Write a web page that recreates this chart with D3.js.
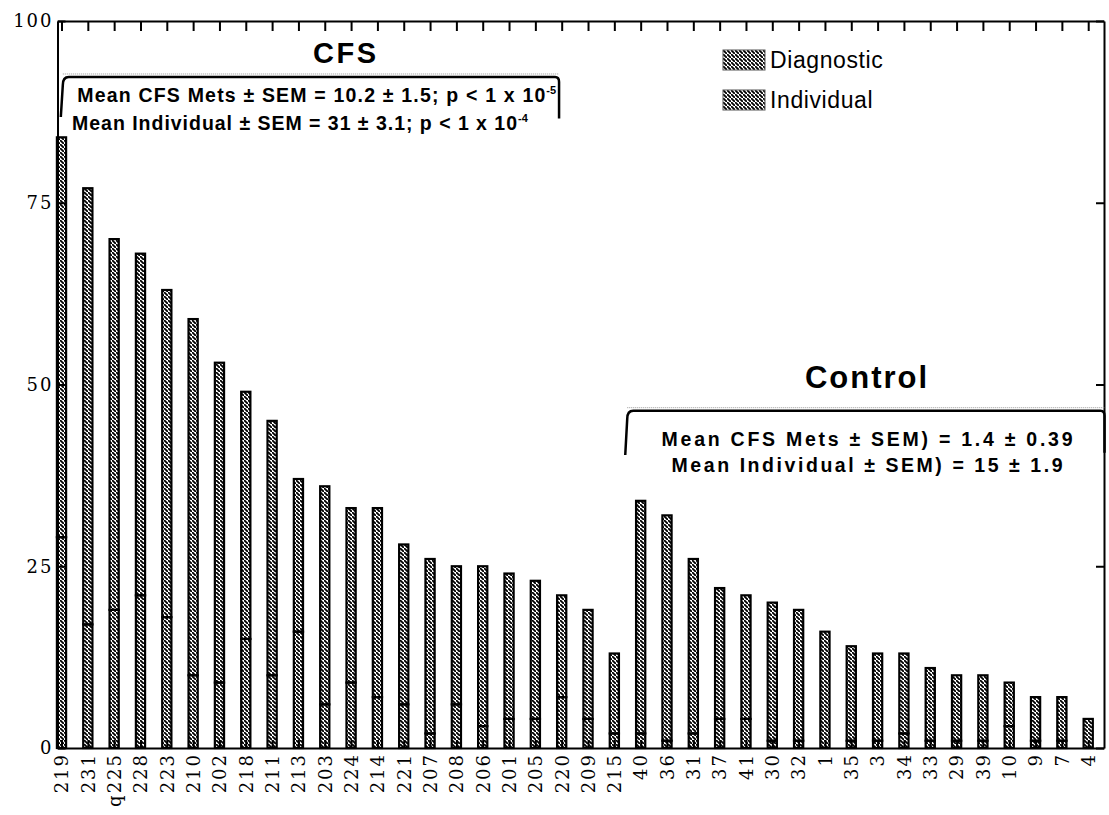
<!DOCTYPE html>
<html>
<head>
<meta charset="utf-8">
<title>CFS vs Control metabolites</title>
<script src="https://cdn.jsdelivr.net/npm/d3@7"></script>
<style>
body { margin: 0; background: #fff; }
.axis path, .axis line { stroke: #000; stroke-width: 2; }
.axis text { font: 18px "DejaVu Serif", serif; fill: #000; letter-spacing: 2px; }
.note { font-family: "Liberation Sans", Arial, sans-serif; font-weight: bold; fill: #000; }
.legend text { font: 23px "Liberation Sans", Arial, sans-serif; fill: #000; letter-spacing: 0.6px; }
.bar { stroke: #000; stroke-width: 2.2; }
</style>
</head>
<body>
<svg id="chart" width="1109" height="815"></svg>
<script>
// subjects, CFS first then controls (sorted by total)
var subjects = ["219","231","q225","228","223","210","202","218","211","213","203",
                "224","214","221","207","208","206","201","205","220","209","215",
                "40","36","31","37","41","30","32","1","35","3","34","33","29","39",
                "10","9","7","4"];
var diagnostic = [29,17,19,21,18,10,9,15,10,16,6,9,7,6,2,6,3,4,4,7,4,2,
                  2,1,2,4,4,1,1,0,1,1,2,1,1,1,3,1,1,0];
var individual = [55,60,51,47,45,49,44,34,35,21,30,24,26,22,24,19,22,20,19,14,15,11,
                  32,31,24,18,17,19,18,16,13,12,11,10,9,9,6,6,6,4];
var yTicks = [0, 25, 50, 75, 100];
var legendLabels = ["Diagnostic", "Individual"];

var svg = d3.select("#chart");

// axes box, x in "bar number" units like the original
var x = d3.scaleLinear().domain([0.848, 40.6]).range([57.5, 1104]);
var y = d3.scaleLinear().domain([0, 100]).range([748, 21]);
var barW = x(1.35) - x(1);

var rows = subjects.map(function(s, i) {
  return {subject: s, pos: i + 1, diagnostic: diagnostic[i], individual: individual[i]};
});
var stacked = d3.stack().keys(["diagnostic", "individual"])(rows);

// hatch
var defs = svg.append("defs");
defs.append("pattern")
    .attr("id", "hatch")
    .attr("patternUnits", "userSpaceOnUse")
    .attr("width", 4).attr("height", 4)
  .append("path")
    .attr("d", "M-1,-1 L1,1 M0,0 L4,4 M3,3 L5,5")
    .attr("stroke", "#000")
    .attr("stroke-width", 1.8);

svg.append("g").selectAll("g")
    .data(stacked)
  .enter().append("g")
  .selectAll("rect")
    .data(function(d) { return d; })
  .enter().append("rect")
    .attr("class", "bar")
    .attr("fill", "url(#hatch)")
    .attr("x", function(d) { return x(d.data.pos) - barW / 2; })
    .attr("y", function(d) { return y(d[1]); })
    .attr("width", barW)
    .attr("height", function(d) { return y(d[0]) - y(d[1]); });

// axes
var idx = d3.range(1, subjects.length + 1);

svg.append("g")
    .attr("class", "axis")
    .attr("transform", "translate(0," + y(0) + ")")
    .call(d3.axisBottom(x).tickValues(idx).tickSize(-8).tickSizeOuter(0)
      .tickFormat(function(d) { return subjects[d - 1]; }))
  .selectAll("text")
    .attr("transform", "rotate(-90)")
    .attr("text-anchor", "end")
    .attr("x", -5).attr("y", 0)
    .attr("dy", "0.35em")
    .attr("dx", 0);

svg.append("g")
    .attr("class", "axis")
    .attr("transform", "translate(0," + y(100) + ")")
    .call(d3.axisTop(x).tickValues(idx).tickSize(-10).tickSizeOuter(0).tickFormat(""));

svg.append("g")
    .attr("class", "axis")
    .attr("transform", "translate(" + x.range()[0] + ",0)")
    .call(d3.axisLeft(y).tickValues(yTicks).tickSize(-8).tickSizeOuter(0).tickPadding(4));

svg.append("g")
    .attr("class", "axis")
    .attr("transform", "translate(" + x.range()[1] + ",0)")
    .call(d3.axisRight(y).tickValues(yTicks).tickSize(-8).tickSizeOuter(0).tickFormat(""));

// group annotations
function bracket(x0, x1, yTop, yBot, yBot2) {
  svg.append("path")
      .attr("d", "M" + x(x0) + "," + y(yTop) + " L" + x(x1) + "," + y(yTop))
      .attr("stroke", "#999")
      .attr("stroke-width", 1)
      .attr("stroke-dasharray", "1,1")
      .attr("transform", "translate(0,-3)");
  svg.append("path")
      .attr("d", "M" + (x(x0) - 2) + "," + y(yBot) + " L" + x(x0) + "," + (y(yTop) + 8) +
                 " Q" + x(x0) + "," + y(yTop) + " " + (x(x0) + 6) + "," + y(yTop) +
                 " L" + (x(x1) - 4) + "," + y(yTop) +
                 " Q" + x(x1) + "," + y(yTop) + " " + x(x1) + "," + (y(yTop) + 5) +
                 " L" + x(x1) + "," + y(yBot2))
      .attr("fill", "none")
      .attr("stroke", "#000")
      .attr("stroke-width", 2.5);
}

bracket(1.05, 19.9, 92.3, 86.8, 86.6);
bracket(22.49, 40.62, 46.4, 40.3, 40.6);

svg.append("text").attr("class", "note")
    .attr("x", x(11.8)).attr("y", y(94.2))
    .attr("text-anchor", "middle").style("font-size", "29px")
    .style("letter-spacing", "2.5px")
    .text("CFS");

svg.append("text").attr("class", "note")
    .attr("x", x(31.6)).attr("y", y(49.5))
    .attr("text-anchor", "middle").style("font-size", "31px")
    .style("letter-spacing", "2px")
    .text("Control");

// each stat line is stretched to the width it has in the figure
function statLine(xv, yv, len, anchor, main, sup) {
  var left = anchor === "middle" ? x(xv) - len / 2 : x(xv);
  svg.append("text").attr("class", "note")
      .attr("x", left).attr("y", y(yv))
      .attr("textLength", len).attr("lengthAdjust", "spacing")
      .style("font-size", "19.5px")
      .text(main);
  if (sup) {
    svg.append("text").attr("class", "note")
        .attr("x", left + len + 1).attr("y", y(yv) - 8)
        .style("font-size", "11px")
        .text(sup);
  }
}

statLine(1.6, 88.8, 468, "start", "Mean CFS Mets \u00b1 SEM = 10.2 \u00b1 1.5; p < 1 x 10", "-5");
statLine(1.4, 85.0, 445, "start", "Mean Individual \u00b1 SEM = 31 \u00b1 3.1; p < 1 x 10", "-4");
statLine(31.6, 41.6, 411, "middle", "Mean CFS Mets \u00b1 SEM) = 1.4 \u00b1 0.39");
statLine(31.6, 37.9, 391, "middle", "Mean Individual \u00b1 SEM) = 15 \u00b1 1.9");

// legend
var legend = svg.append("g").attr("class", "legend")
    .attr("transform", "translate(723,50)");
var li = legend.selectAll("g")
    .data(legendLabels)
  .enter().append("g")
    .attr("transform", function(d, i) { return "translate(0," + i * 40 + ")"; });
li.append("rect")
    .attr("width", 42).attr("height", 20)
    .attr("fill", "url(#hatch)")
    .attr("stroke", "#555").attr("stroke-width", 1);
li.append("text")
    .attr("x", 47).attr("y", 18)
    .text(function(d) { return d; });
</script>
</body>
</html>
